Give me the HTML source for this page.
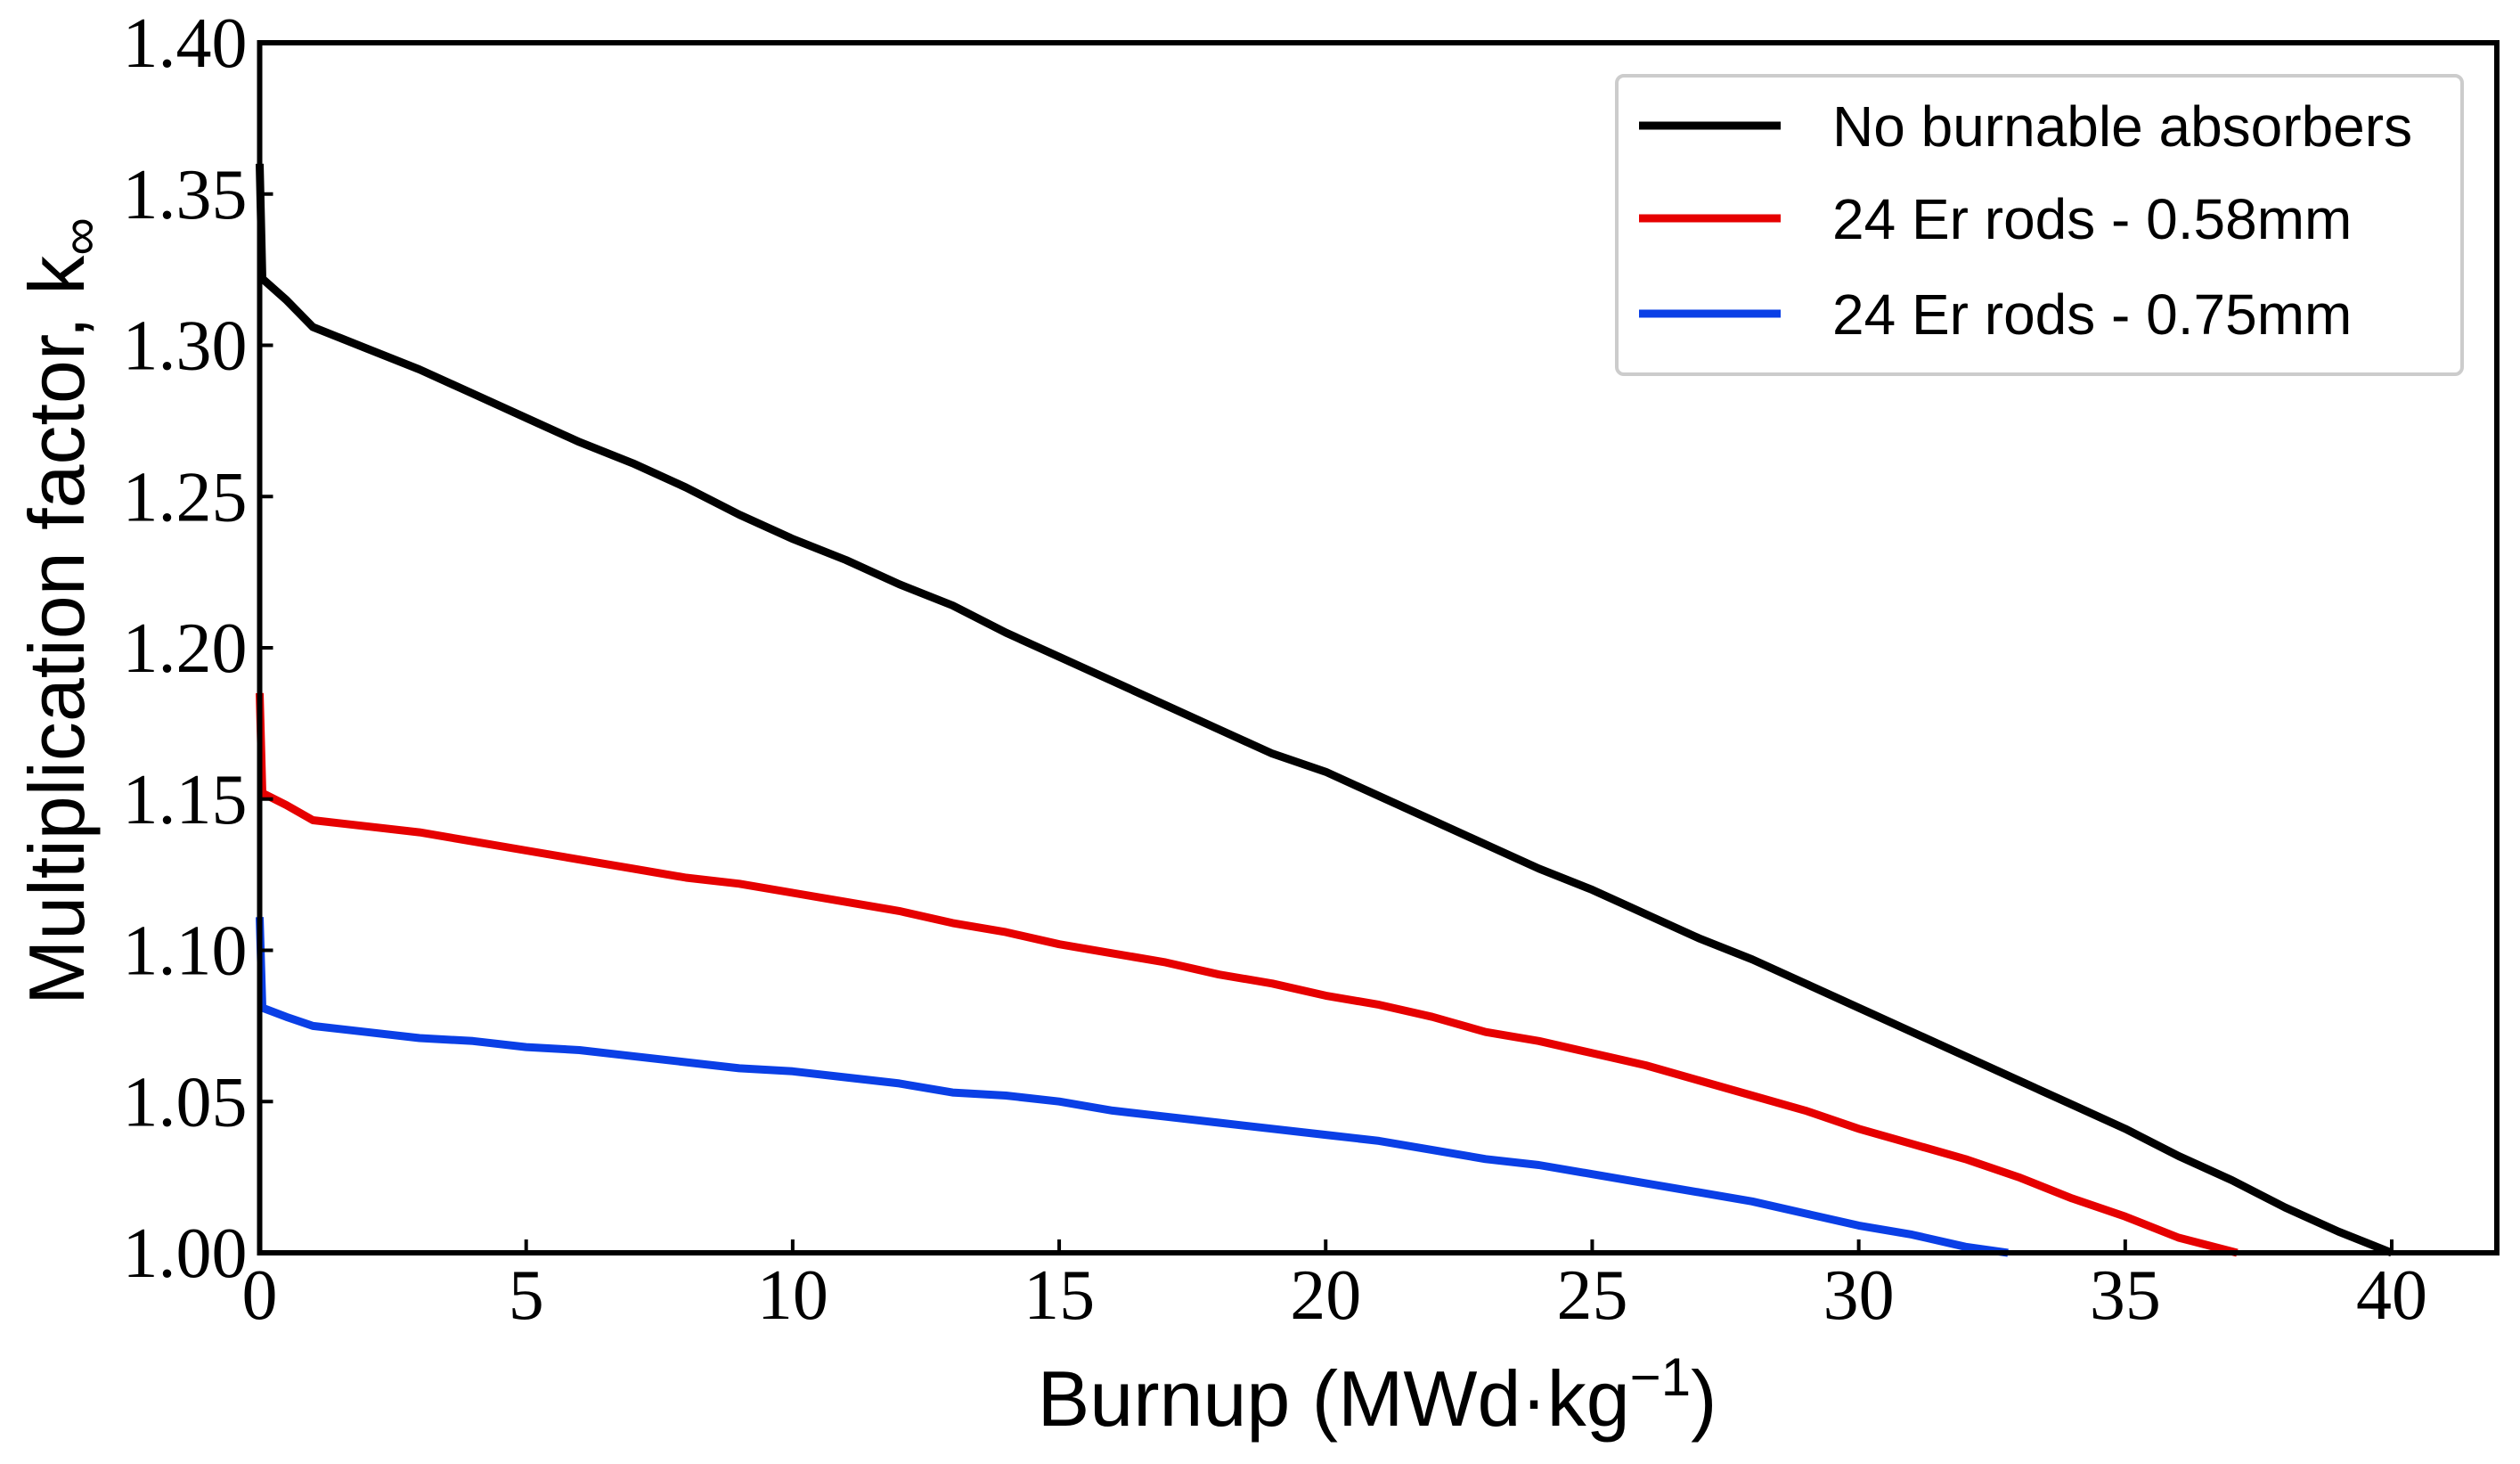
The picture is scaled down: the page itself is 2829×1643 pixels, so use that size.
<!DOCTYPE html>
<html><head><meta charset="utf-8"><style>
html,body{margin:0;padding:0;background:#fff;}
svg{display:block;}
</style></head><body>
<svg id="chart" width="2829" height="1643" viewBox="0 0 2829 1643" xmlns="http://www.w3.org/2000/svg">
<g id="plot"></g>
</svg>
<script>
const xTicks=[0,5,10,15,20,25,30,35,40];
const yTicks=[1.00,1.05,1.10,1.15,1.20,1.25,1.30,1.35,1.40];
const yTickLabels=["1.00","1.05","1.10","1.15","1.20","1.25","1.30","1.35","1.40"];
const blackX=[0,0.05,0.5,1,2,3,4,5,6,7,8,9,10,11,12,13,14,15,16,17,18,19,20,21,22,23,24,25,26,27,28,29,30,31,32,33,34,35,36,37,38,39,40];
const blackY=[1.36,1.322,1.315,1.306,1.299,1.292,1.284,1.276,1.268,1.261,1.253,1.244,1.236,1.229,1.221,1.214,1.205,1.197,1.189,1.181,1.173,1.165,1.159,1.151,1.143,1.135,1.127,1.120,1.112,1.104,1.097,1.089,1.081,1.073,1.065,1.057,1.049,1.041,1.032,1.024,1.015,1.007,1.000];
const redX=[0,0.05,0.5,1,2,3,4,5,6,7,8,9,10,11,12,13,14,15,16,17,18,19,20,21,22,23,24,25,26,27,28,29,30,31,32,33,34,35,36,37.1];
const redY=[1.185,1.152,1.148,1.143,1.141,1.139,1.136,1.133,1.130,1.127,1.124,1.122,1.119,1.116,1.113,1.109,1.106,1.102,1.099,1.096,1.092,1.089,1.085,1.082,1.078,1.073,1.070,1.066,1.062,1.057,1.052,1.047,1.041,1.036,1.031,1.025,1.018,1.012,1.005,1.000];
const blueX=[0,0.05,0.5,1,2,3,4,5,6,7,8,9,10,11,12,13,14,15,16,17,18,19,20,21,22,23,24,25,26,27,28,29,30,31,32,32.8];
const blueY=[1.111,1.081,1.078,1.075,1.073,1.071,1.070,1.068,1.067,1.065,1.063,1.061,1.060,1.058,1.056,1.053,1.052,1.050,1.047,1.045,1.043,1.041,1.039,1.037,1.034,1.031,1.029,1.026,1.023,1.020,1.017,1.013,1.009,1.006,1.002,1.000];

const L=291.5,R=2803,T=48,B=1406;
const xs=v=>L+v*(2685-L)/40;
const ys=v=>B-(v-1.0)*(B-T)/0.4;
const NS="http://www.w3.org/2000/svg";
const g=document.getElementById('plot');
function mk(tag,attrs){const e=document.createElementNS(NS,tag);for(const k in attrs)e.setAttribute(k,attrs[k]);g.appendChild(e);return e;}

function series(X,Y,color,name){
  const d=X.map((x,i)=>(i?'L':'M')+xs(x).toFixed(1)+' '+ys(Y[i]).toFixed(1)).join(' ');
  const p=mk('path',{d:d,fill:'none',stroke:color,'stroke-width':9,'stroke-linejoin':'round'});
  
  
}
series(blueX,blueY,'#0a3fe6','series-er-075mm');
series(redX,redY,'#e60000','series-er-058mm');
series(blackX,blackY,'#000','series-no-absorbers');

const fr=mk('rect',{x:L,y:T,width:R-L,height:B-T,fill:'none',stroke:'#000','stroke-width':6});



xTicks.forEach(t=>{
  const x=xs(t);
  const tk=mk('line',{x1:x,x2:x,y1:B,y2:B-15,stroke:'#000','stroke-width':4});
  
  
  const tx=mk('text',{x:x,y:B+74,'text-anchor':'middle','font-family':'"Liberation Serif",serif','font-size':80});
  tx.textContent=String(t);
  
  
});
yTicks.forEach((t,i)=>{
  const y=ys(t);
  const tk=mk('line',{x1:L,x2:L+15,y1:y,y2:y,stroke:'#000','stroke-width':4});
  
  
  const tx=mk('text',{x:L-14,y:y+27,'text-anchor':'end','font-family':'"Liberation Serif",serif','font-size':80});
  tx.textContent=yTickLabels[i];
  
  
});

const xt=mk('text',{x:1546,y:1600,'text-anchor':'middle','font-family':'"Liberation Sans",sans-serif','font-size':88});
xt.innerHTML='Burnup (MWd·kg<tspan dy="-34" font-size="60">−1</tspan><tspan dy="34">)</tspan>';



const yt=mk('text',{x:0,y:0,'text-anchor':'middle','font-family':'"Liberation Sans",sans-serif','font-size':88,transform:'translate(94,686) rotate(-90)'});
yt.innerHTML='Multiplication factor, k<tspan dy="16" font-size="60">∞</tspan>';



const lg=mk('rect',{x:1815,y:85,width:949,height:335,rx:8,fill:'#fff',stroke:'#ccc','stroke-width':4});


const entries=[['No burnable absorbers','#000',141],['24 Er rods - 0.58mm','#e60000',245],['24 Er rods - 0.75mm','#0a3fe6',352]];
entries.forEach(e=>{
  const ln=mk('line',{x1:1840,x2:1999,y1:e[2],y2:e[2],stroke:e[1],'stroke-width':9});
  
  
  const tx=mk('text',{x:2057,y:e[2]+23,'font-family':'"Liberation Sans",sans-serif','font-size':64});
  tx.textContent=e[0];
  
  
});
</script>
</body></html>
